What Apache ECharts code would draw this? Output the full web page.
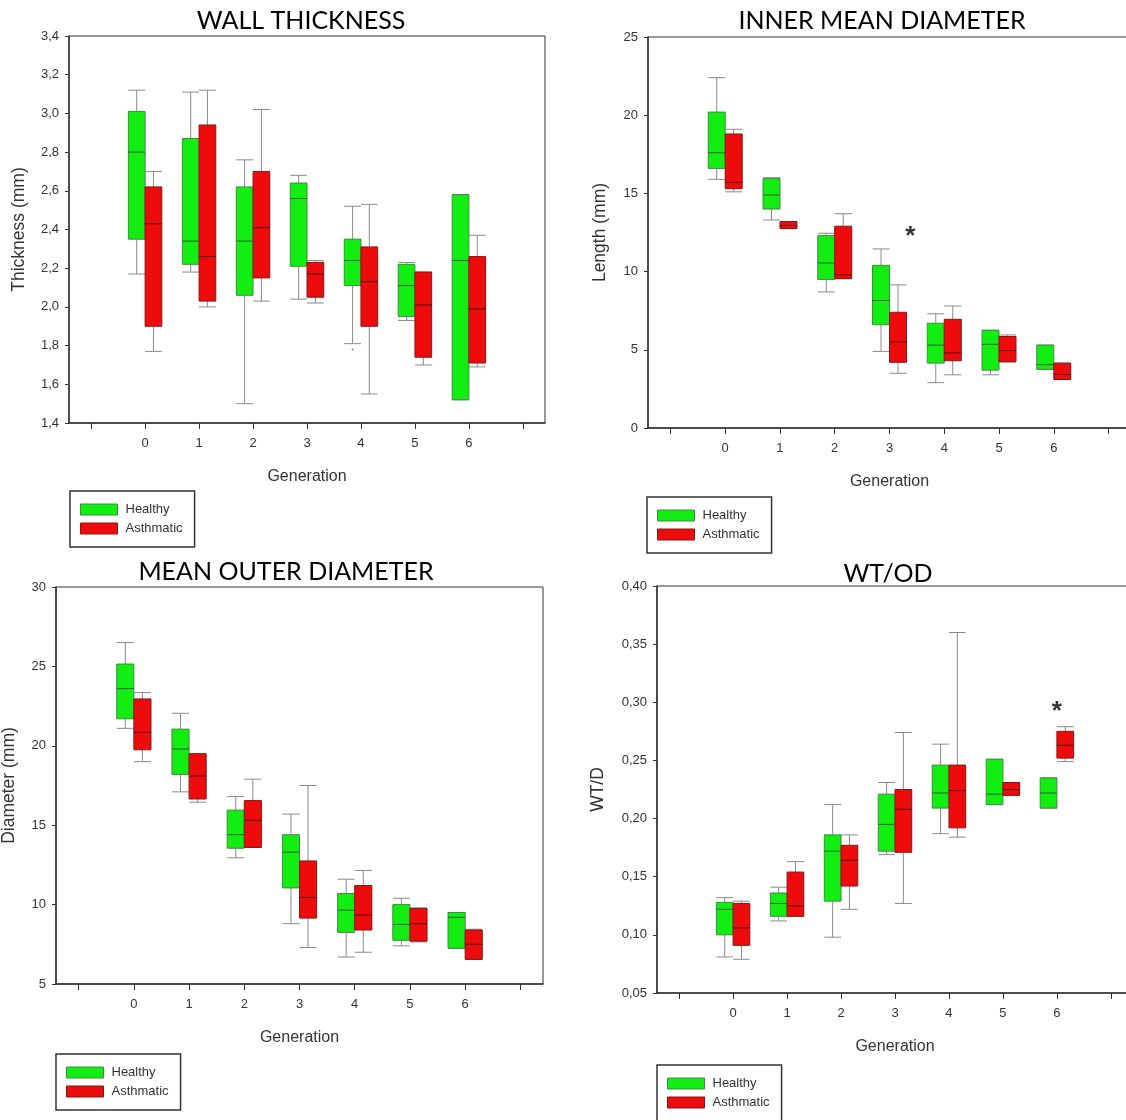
<!DOCTYPE html>
<html>
<head>
<meta charset="utf-8">
<script src="https://cdn.jsdelivr.net/npm/echarts@6/dist/echarts.min.js"></script>
<style>
  html, body { margin: 0; padding: 0; background: #fff; }
  #chart { width: 1126px; height: 1120px; }
</style>
</head>
<body>
<div id="chart"></div>
<script>
// Airway generations on the x axis
const generations = [0, 1, 2, 3, 4, 5, 6];
const xTicks = [-1, 0, 1, 2, 3, 4, 5, 6, 7];

// Box statistics per generation: [min, Q1, median, Q3, max]
const wallHealthy = [
  [2.17, 2.35, 2.80, 3.01, 3.12],
  [2.18, 2.22, 2.34, 2.87, 3.11],
  [1.50, 2.06, 2.34, 2.62, 2.76],
  [2.04, 2.21, 2.56, 2.64, 2.68],
  [1.81, 2.11, 2.24, 2.35, 2.52],
  [1.93, 1.95, 2.11, 2.22, 2.23],
  [1.52, 1.52, 2.24, 2.58, 2.58]
];
const wallAsthmatic = [
  [1.77, 1.90, 2.43, 2.62, 2.70],
  [2.00, 2.03, 2.26, 2.94, 3.12],
  [2.03, 2.15, 2.41, 2.70, 3.02],
  [2.02, 2.05, 2.17, 2.23, 2.24],
  [1.55, 1.90, 2.13, 2.31, 2.53],
  [1.70, 1.74, 2.01, 2.18, 2.18],
  [1.69, 1.71, 1.99, 2.26, 2.37]
];
const wallOutliersHealthy = [[4, 1.78]];

const innerHealthy = [
  [15.9, 16.6, 17.6, 20.2, 22.4],
  [13.3, 14.0, 14.9, 15.95, 16.0],
  [8.7, 9.5, 10.55, 12.3, 12.45],
  [4.9, 6.6, 8.15, 10.4, 11.45],
  [2.9, 4.15, 5.3, 6.7, 7.3],
  [3.4, 3.7, 5.35, 6.25, 6.25],
  [3.75, 3.75, 4.05, 5.3, 5.3]
];
const innerAsthmatic = [
  [15.1, 15.3, 15.7, 18.8, 19.1],
  [12.75, 12.75, 12.95, 13.2, 13.2],
  [9.55, 9.55, 9.8, 12.9, 13.7],
  [3.5, 4.2, 5.5, 7.4, 9.15],
  [3.4, 4.3, 4.8, 6.95, 7.8],
  [4.23, 4.23, 4.95, 5.85, 5.95],
  [3.1, 3.1, 3.42, 4.14, 4.16]
];
const innerSignificance = [[3.38, 12.7]];

const outerHealthy = [
  [21.1, 21.7, 23.6, 25.15, 26.5],
  [17.1, 18.2, 19.8, 21.05, 22.05],
  [12.95, 13.55, 14.4, 15.95, 16.8],
  [8.8, 11.05, 13.3, 14.4, 15.7],
  [6.7, 8.25, 9.65, 10.7, 11.6],
  [7.4, 7.75, 8.75, 10.0, 10.4],
  [7.25, 7.25, 9.2, 9.5, 9.5]
];
const outerAsthmatic = [
  [19.0, 19.75, 20.85, 22.95, 23.35],
  [16.45, 16.65, 18.1, 19.5, 19.5],
  [13.6, 13.6, 15.3, 16.55, 17.9],
  [7.3, 9.15, 10.45, 12.75, 17.5],
  [7.0, 8.4, 9.35, 11.2, 12.15],
  [7.65, 7.7, 8.8, 9.75, 9.8],
  [6.55, 6.55, 7.5, 8.4, 8.45]
];

const ratioHealthy = [
  [0.081, 0.100, 0.122, 0.128, 0.132],
  [0.112, 0.116, 0.127, 0.136, 0.141],
  [0.098, 0.129, 0.172, 0.186, 0.212],
  [0.169, 0.172, 0.195, 0.221, 0.231],
  [0.187, 0.209, 0.222, 0.246, 0.264],
  [0.212, 0.212, 0.221, 0.251, 0.251],
  [0.209, 0.209, 0.222, 0.235, 0.235]
];
const ratioAsthmatic = [
  [0.079, 0.091, 0.106, 0.127, 0.129],
  [0.116, 0.116, 0.125, 0.154, 0.163],
  [0.122, 0.142, 0.164, 0.177, 0.186],
  [0.127, 0.171, 0.208, 0.225, 0.274],
  [0.184, 0.192, 0.224, 0.246, 0.360],
  [0.220, 0.220, 0.225, 0.231, 0.231],
  [0.249, 0.252, 0.263, 0.275, 0.279]
];
const ratioSignificance = [[6.0, 0.298]];

// ---- styling ----
const GREEN = '#12ee12', GREEN_EDGE = '#3b8e3b', GREEN_MED = '#2c5e2c';
const RED = '#ee0b0b', RED_EDGE = '#8a1414', RED_MED = '#5a0505';
const WHISKER = '#8a8a8a';
const BOX_W = 0.31;           // box width in generation units
const LABEL_FONT = 'Liberation Sans, Arial, sans-serif';
const TITLE_FONT = 'Lato, sans-serif';

const panels = [
  { title: 'WALL THICKNESS', titleX: 301, titleY: 8,
    grid: { left: 69, top: 36, width: 476, height: 387 },
    yName: 'Thickness (mm)', yGap: 41, yMin: 1.4, yMax: 3.4, yStep: 0.2, dec: 1,
    healthy: wallHealthy, asthmatic: wallAsthmatic, outliers: wallOutliersHealthy, stars: [],
    legend: { left: 70, top: 491 } },
  { title: 'INNER MEAN DIAMETER', titleX: 882, titleY: 8,
    grid: { left: 648, top: 37, width: 483, height: 391 },
    yName: 'Length (mm)', yGap: 39, yMin: 0, yMax: 25, yStep: 5, dec: 0,
    healthy: innerHealthy, asthmatic: innerAsthmatic, outliers: [], stars: innerSignificance,
    legend: { left: 647, top: 497 } },
  { title: 'MEAN OUTER DIAMETER', titleX: 286, titleY: 559,
    grid: { left: 56, top: 587, width: 487, height: 397 },
    yName: 'Diameter (mm)', yGap: 38, yMin: 5, yMax: 30, yStep: 5, dec: 0,
    healthy: outerHealthy, asthmatic: outerAsthmatic, outliers: [], stars: [],
    legend: { left: 56, top: 1054 } },
  { title: 'WT/OD', titleX: 888, titleY: 561,
    grid: { left: 657, top: 586, width: 476, height: 407 },
    yName: 'WT/D', yGap: 50, yMin: 0.05, yMax: 0.40, yStep: 0.05, dec: 2,
    healthy: ratioHealthy, asthmatic: ratioAsthmatic, outliers: [], stars: ratioSignificance,
    legend: { left: 657, top: 1065 } }
];

function boxRenderer(side, fill, edge, medColor) {
  return function (params, api) {
    const g = api.value(0);
    const w = api.size([BOX_W, 0])[0];
    const cx = api.coord([g, 0])[0] + side * w / 2;
    const yLo = api.coord([g, api.value(1)])[1];
    const yQ1 = api.coord([g, api.value(2)])[1];
    const yMed = api.coord([g, api.value(3)])[1];
    const yQ3 = api.coord([g, api.value(4)])[1];
    const yHi = api.coord([g, api.value(5)])[1];
    const x0 = cx - w / 2, x1 = cx + w / 2;
    const wStyle = { stroke: WHISKER, lineWidth: 1 };
    return {
      type: 'group',
      children: [
        { type: 'line', shape: { x1: cx, y1: yHi, x2: cx, y2: yQ3 }, style: wStyle },
        { type: 'line', shape: { x1: cx, y1: yQ1, x2: cx, y2: yLo }, style: wStyle },
        { type: 'line', shape: { x1: x0, y1: yHi, x2: x1, y2: yHi }, style: wStyle },
        { type: 'line', shape: { x1: x0, y1: yLo, x2: x1, y2: yLo }, style: wStyle },
        { type: 'rect', shape: { x: x0, y: yQ3, width: w, height: yQ1 - yQ3 },
          style: { fill: fill, stroke: edge, lineWidth: 1 } },
        { type: 'line', shape: { x1: x0, y1: yMed, x2: x1, y2: yMed },
          style: { stroke: medColor, lineWidth: 1 } }
      ]
    };
  };
}

const option = {
  animation: false,
  backgroundColor: '#ffffff',
  title: [], grid: [], xAxis: [], yAxis: [], legend: [], series: []
};

panels.forEach((p, i) => {
  option.title.push({
    text: p.title, left: p.titleX, top: p.titleY, textAlign: 'center', padding: 0,
    textStyle: { fontFamily: TITLE_FONT, fontSize: 25, fontWeight: 'normal', color: '#000' }
  });
  option.grid.push(Object.assign({ show: true, borderColor: '#333', borderWidth: 1,
    backgroundColor: 'transparent', containLabel: false, outerBoundsMode: 'none' }, p.grid));
  option.xAxis.push({
    type: 'value', gridIndex: i, min: -1.41, max: 7.41,
    name: 'Generation', nameLocation: 'middle', nameGap: 46,
    nameTextStyle: { fontFamily: LABEL_FONT, fontSize: 16, color: '#333' },
    axisLine: { show: true, onZero: false, lineStyle: { color: '#333', width: 1.5 } },
    axisTick: { show: true, length: 6, customValues: xTicks, lineStyle: { color: '#333' } },
    axisLabel: { customValues: generations, margin: 14, fontFamily: LABEL_FONT, fontSize: 13, color: '#333' },
    splitLine: { show: false }
  });
  option.yAxis.push({
    type: 'value', gridIndex: i, min: p.yMin, max: p.yMax, interval: p.yStep,
    name: p.yName, nameLocation: 'middle', nameGap: p.yGap,
    nameTextStyle: { fontFamily: LABEL_FONT, fontSize: 17.5, color: '#333' },
    axisLine: { show: true, onZero: false, lineStyle: { color: '#333', width: 1.5 } },
    axisTick: { show: true, length: 4, lineStyle: { color: '#333' } },
    axisLabel: { margin: 10, fontFamily: LABEL_FONT, fontSize: 13, color: '#333',
      formatter: v => v.toFixed(p.dec).replace('.', ',') },
    splitLine: { show: false }
  });
  option.legend.push({
    left: p.legend.left, top: p.legend.top, orient: 'vertical', height: 33,
    data: [
      { name: 'Healthy', itemStyle: { color: GREEN, borderColor: GREEN_EDGE, borderWidth: 1 } },
      { name: 'Asthmatic', itemStyle: { color: RED, borderColor: RED_EDGE, borderWidth: 1 } }
    ],
    icon: 'rect', itemWidth: 37, itemHeight: 11, itemGap: 6,
    padding: [12, 12, 12, 10], borderColor: '#333', borderWidth: 1.5,
    selectedMode: false,
    textStyle: { fontFamily: LABEL_FONT, fontSize: 13, color: '#333', padding: [0, 0, 0, 3] }
  });
  const build = arr => arr.map((s, k) => [generations[k]].concat(s));
  option.series.push({
    type: 'custom', name: 'Healthy', xAxisIndex: i, yAxisIndex: i,
    itemStyle: { color: GREEN },
    renderItem: boxRenderer(-1, GREEN, GREEN_EDGE, GREEN_MED),
    encode: { x: 0, y: [1, 2, 3, 4, 5] },
    data: build(p.healthy)
  });
  option.series.push({
    type: 'custom', name: 'Asthmatic', xAxisIndex: i, yAxisIndex: i,
    itemStyle: { color: RED },
    renderItem: boxRenderer(1, RED, RED_EDGE, RED_MED),
    encode: { x: 0, y: [1, 2, 3, 4, 5] },
    data: build(p.asthmatic)
  });
  if (p.outliers.length) {
    option.series.push({
      type: 'scatter', xAxisIndex: i, yAxisIndex: i, symbolSize: 2,
      itemStyle: { color: '#666' },
      data: p.outliers.map(o => [o[0] - BOX_W / 2, o[1]])
    });
  }
  if (p.stars.length) {
    option.series.push({
      type: 'scatter', xAxisIndex: i, yAxisIndex: i, symbolSize: 0,
      data: p.stars,
      label: { show: true, position: 'inside', formatter: '*', offset: [0, 7],
        fontFamily: LABEL_FONT, fontWeight: 'bold', fontSize: 26, color: '#000' }
    });
  }
});

const chart = echarts.init(document.getElementById('chart'), null, { renderer: 'canvas' });
chart.setOption(option);
</script>
</body>
</html>
